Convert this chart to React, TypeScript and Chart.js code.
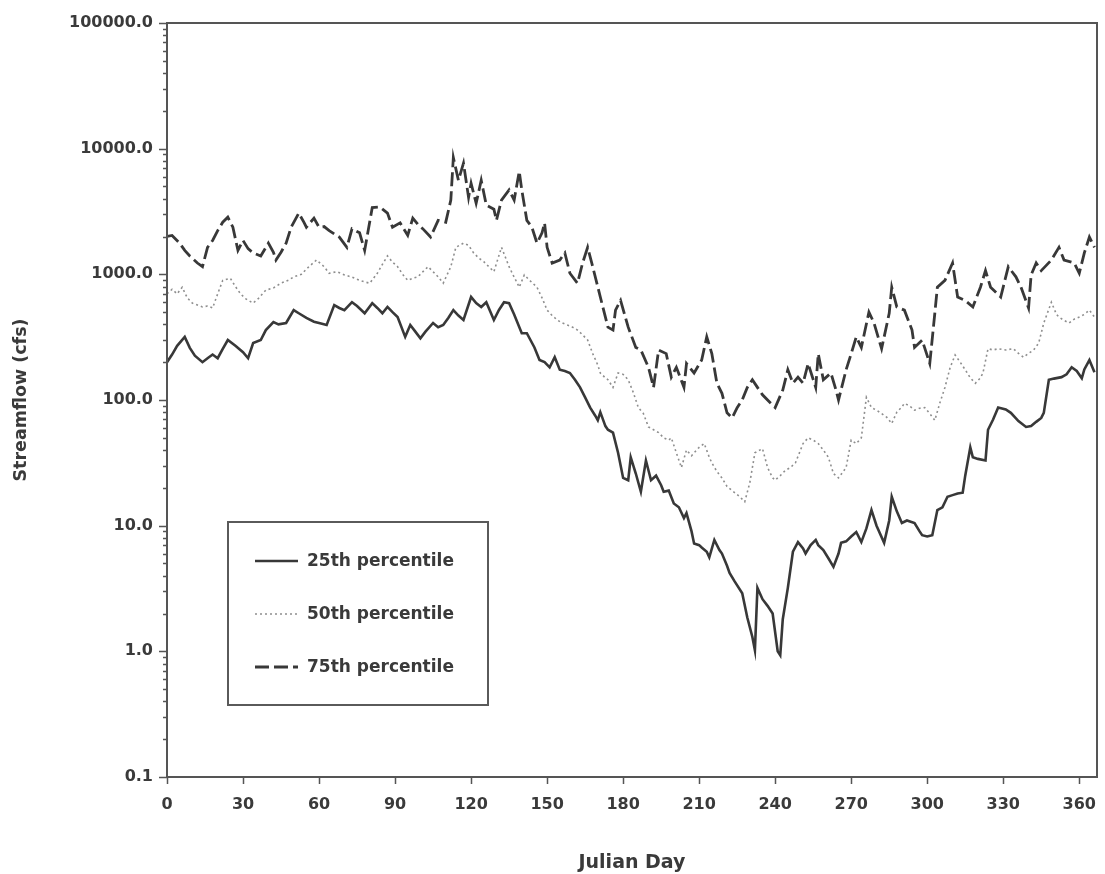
import React, { useEffect, useRef } from 'react';
import { Chart, registerables } from 'chart.js';

Chart.register(...registerables);

// Axis ticks
const dayTicks = [0, 30, 60, 90, 120, 150, 180, 210, 240, 270, 300, 330, 360];
const flowTicks = [0.1, 1, 10, 100, 1000, 10000, 100000];

const seriesLabels = ['25th percentile', '50th percentile', '75th percentile'];

// 25th percentile daily streamflow (cfs)
const p25Days = [
  0, 2, 4, 7, 9, 11, 14, 16, 18, 20, 22, 24, 27, 30, 32, 34, 37, 39, 42, 44, 47, 50, 52, 55, 58, 60,
  63, 66, 68, 70, 73, 75, 78, 81, 83, 85, 87, 89, 91, 94, 96, 98, 100, 102, 105, 107, 109, 111, 113,
  115, 117, 120, 122, 124, 126, 129, 131, 133, 135, 137, 140, 142, 145, 147, 149, 151, 153, 155, 157,
  159, 161, 163, 165, 167, 169, 170, 171, 173, 174, 176, 178, 180, 182, 183, 185, 187, 189, 191, 193,
  195, 196, 198, 200, 202, 204, 205, 207, 208, 210, 211, 213, 214, 216, 218, 219, 221, 222, 224, 227,
  229, 231, 232, 233, 235, 237, 239, 241, 242, 243, 245, 247, 249, 251, 252, 254, 256, 257, 259, 261,
  263, 265, 266, 268, 270, 272, 274, 276, 278, 280, 283, 285, 286, 288, 290, 292, 295, 297, 298, 300,
  302, 304, 306, 308, 310, 312, 314, 315, 317, 318, 320, 323, 324, 326, 328, 331, 333, 336, 339, 341,
  343, 345, 346, 348, 350, 353, 355, 357, 359, 361, 362, 364, 366,
];
const p25Flow = [
  200, 230, 270, 318, 260, 225, 200, 215, 230, 215, 255, 300, 270, 240, 215, 284, 300, 360, 417, 400,
  410, 519, 490, 450, 420, 410, 395, 569, 540, 519, 600, 560, 490, 590, 540, 490, 550, 500, 457, 318,
  395, 350, 310, 350, 410, 380, 395, 450, 519, 470, 433, 660, 590, 550, 600, 433, 520, 600, 590, 480,
  340, 340, 262, 208, 200, 182, 219, 174, 170, 164, 145, 126, 105, 87, 75, 69, 80, 62, 58, 55, 38, 24,
  23, 35, 26, 18.6, 33, 23, 25, 21, 18.6, 19, 15, 14, 11.5, 12.6, 9, 7.2, 7.0, 6.7, 6.2, 5.6, 7.7, 6.4,
  6.0, 4.8, 4.2, 3.6, 2.9, 1.86, 1.3, 1.02, 3.2, 2.6, 2.3, 2.0, 1.0, 0.93, 1.8, 3.2, 6.2, 7.4, 6.6, 6.0,
  7.0, 7.7, 7.0, 6.4, 5.5, 4.7, 6.0, 7.3, 7.5, 8.2, 8.9, 7.4, 9.5, 13.3, 10, 7.3, 11, 17, 13, 10.5, 11,
  10.5, 9, 8.4, 8.2, 8.4, 13.3, 14, 17, 17.5, 18, 18.3, 25, 42, 35, 34, 33, 58, 70, 87, 84, 79, 68, 61,
  62, 67, 72, 79, 145, 148, 152, 160, 182, 170, 149, 175, 208, 166,
];

// 50th percentile daily streamflow (cfs)
const p50Days = [
  0, 2, 4, 6, 8, 10, 12, 14, 16, 18, 20, 22, 25, 27, 29, 31, 34, 36, 39, 42, 45, 48, 50, 53, 56, 59,
  62, 64, 67, 70, 73, 76, 78, 80, 83, 85, 87, 89, 91, 93, 95, 97, 99, 101, 103, 105, 107, 109, 112,
  114, 117, 119, 121, 123, 125, 127, 129, 132, 135, 137, 139, 141, 143, 146, 148, 150, 152, 154, 156,
  158, 160, 162, 164, 166, 168, 170, 171, 173, 174, 176, 178, 180, 182, 184, 186, 188, 190, 192, 194,
  196, 198, 199, 201, 203, 205, 207, 208, 210, 212, 214, 215, 217, 219, 221, 223, 226, 228, 230, 232,
  235, 237, 239, 240, 242, 244, 246, 248, 251, 253, 255, 257, 259, 261, 263, 265, 268, 270, 272, 274,
  276, 278, 280, 282, 284, 286, 288, 290, 291, 293, 295, 297, 299, 301, 303, 305, 307, 309, 311, 313,
  315, 317, 319, 321, 322, 324, 326, 328, 331, 334, 336, 338, 340, 342, 344, 346, 349, 351, 352, 354,
  356, 358, 360, 362, 364, 366,
];
const p50Flow = [
  700, 760, 700, 790, 650, 590, 570, 550, 560, 540, 700, 895, 930, 800, 700, 640, 590, 640, 748, 780,
  850, 900, 955, 1000, 1150, 1300, 1150, 1020, 1050, 990, 950, 895, 870, 850, 1020, 1200, 1400, 1250,
  1150, 1000, 895, 930, 955, 1050, 1150, 1050, 955, 850, 1150, 1640, 1770, 1700, 1480, 1350, 1260,
  1150, 1050, 1640, 1150, 950, 790, 990, 900, 790, 650, 519, 470, 433, 410, 395, 380, 360, 330, 300,
  234, 190, 164, 150, 145, 126, 164, 160, 145, 115, 87, 78, 61, 58, 55, 50, 48, 50, 38, 29, 40, 36, 38,
  42, 45, 35, 31.6, 27, 24, 20.5, 19, 17, 15.5, 22, 38, 41, 29, 24, 23, 25, 27.5, 29, 31.6, 45, 50, 48,
  45, 40, 35, 26, 24, 29, 48, 45, 50, 105, 87, 83, 78, 73, 65, 80, 88, 94, 90, 83, 86, 87, 78, 69, 95,
  126, 180, 228, 200, 174, 150, 136, 150, 164, 256, 250, 256, 250, 256, 235, 219, 235, 250, 284, 410,
  600, 480, 457, 430, 410, 440, 457, 480, 519, 457,
];

// 75th percentile daily streamflow (cfs)
const p75Days = [
  0, 2, 5, 7, 9, 12, 14, 16, 18, 20, 22, 24, 26, 28, 30, 32, 34, 37, 40, 42, 43, 45, 47, 49, 52, 54,
  55, 58, 60, 62, 64, 66, 68, 71, 73, 76, 78, 81, 84, 87, 89, 92, 95, 97, 99, 101, 104, 107, 110, 112,
  113, 115, 117, 119, 120, 122, 124, 126, 129, 130, 132, 135, 137, 139, 140, 142, 144, 146, 148, 149,
  150, 152, 155, 157, 159, 162, 164, 166, 168, 171, 174, 176, 177, 179, 182, 185, 187, 190, 192, 194,
  197, 199, 201, 204, 205, 208, 211, 213, 215, 217, 219, 221, 223, 225, 227, 229, 231, 233, 235, 237,
  240, 243, 245, 247, 249, 251, 253, 256, 257, 259, 262, 264, 265, 268, 270, 272, 274, 277, 279, 282,
  285, 286, 288, 291, 294, 295, 298, 301, 303, 304, 307, 310, 312, 315, 318, 321, 323, 325, 329, 332,
  335, 337, 340, 341, 343, 345, 349, 352, 354, 358, 360, 362, 364, 366,
];
const p75Flow = [
  2000, 2040, 1770, 1550, 1400, 1230, 1150, 1640, 1860, 2230, 2600, 2850, 2370, 1550, 1860, 1600, 1480,
  1400, 1770, 1500, 1300, 1500, 1770, 2370, 3070, 2600, 2370, 2800, 2370, 2400, 2230, 2100, 1980, 1640,
  2300, 2140, 1550, 3400, 3430, 3070, 2370, 2570, 2040, 2800, 2500, 2300, 1980, 2690, 2600, 3900, 8500,
  5600, 7670, 4100, 5300, 3680, 5600, 3550, 3300, 2690, 3900, 4700, 3900, 6600, 4700, 2690, 2370, 1770,
  2140, 2570, 1640, 1230, 1300, 1480, 1020, 850, 1230, 1640, 1150, 660, 380, 360, 519, 620, 380, 262,
  250, 182, 126, 250, 234, 152, 182, 126, 195, 164, 208, 318, 234, 136, 113, 79, 72, 87, 100, 126, 145,
  126, 110, 100, 87, 120, 174, 136, 152, 136, 195, 126, 234, 145, 164, 120, 100, 174, 234, 318, 262,
  500, 410, 256, 490, 790, 550, 519, 360, 262, 300, 195, 490, 790, 895, 1230, 660, 620, 550, 790, 1070,
  790, 660, 1150, 955, 790, 540, 990, 1230, 1070, 1300, 1640, 1300, 1230, 1020, 1480, 1980, 1640,
];

const FONT = 'DejaVu Sans';
const INK = '#3a3a3a';
const AXIS = '#555555';

const toPoints = (days: number[], flows: number[]) => days.map((d, i) => ({ x: d, y: flows[i] }));

const isDecade = (v: number) => Math.abs(Math.log10(v) - Math.round(Math.log10(v))) < 1e-9;

// Frame, tick marks and the boxed legend inside the plot
const decorPlugin = {
  id: 'decor',
  beforeDraw(chart: any) {
    const { ctx, width, height } = chart;
    ctx.save();
    ctx.fillStyle = '#ffffff';
    ctx.fillRect(0, 0, width, height);
    ctx.restore();
  },
  afterDraw(chart: any) {
    const { ctx, chartArea, scales } = chart;
    const { left, right, top, bottom } = chartArea;
    const xs = scales.x;
    const ys = scales.y;
    ctx.save();

    // plot frame
    ctx.strokeStyle = AXIS;
    ctx.lineWidth = 2;
    ctx.strokeRect(left, top, right - left, bottom - top);

    // y-axis major and minor ticks
    ctx.lineWidth = 1.5;
    ctx.beginPath();
    const lo = Math.log10(flowTicks[0]);
    const hi = Math.log10(flowTicks[flowTicks.length - 1]);
    for (let e = lo; e <= hi; e++) {
      for (let k = 1; k <= 9; k++) {
        const v = k * Math.pow(10, e);
        if (v > flowTicks[flowTicks.length - 1] * 1.0001) break;
        const py = Math.round(ys.getPixelForValue(v)) + 0.5;
        const len = k === 1 ? 8 : 4;
        ctx.moveTo(left - len, py);
        ctx.lineTo(left, py);
      }
    }
    // x-axis ticks
    for (const d of dayTicks) {
      const px = Math.round(xs.getPixelForValue(d)) + 0.5;
      ctx.moveTo(px, bottom);
      ctx.lineTo(px, bottom + 7);
    }
    ctx.stroke();

    // legend box
    const bx = left + 61;
    const by = top + 499;
    const bw = 260;
    const bh = 183;
    ctx.fillStyle = '#ffffff';
    ctx.fillRect(bx, by, bw, bh);
    ctx.strokeStyle = '#5a5a5a';
    ctx.lineWidth = 2;
    ctx.strokeRect(bx, by, bw, bh);

    const rows = [39, 92, 145];
    chart.data.datasets.forEach((ds: any, i: number) => {
      const ry = by + rows[i];
      ctx.beginPath();
      ctx.strokeStyle = ds.borderColor;
      ctx.lineWidth = ds.borderWidth;
      ctx.setLineDash(ds.borderDash || []);
      ctx.moveTo(bx + 27, ry);
      ctx.lineTo(bx + 70, ry);
      ctx.stroke();
      ctx.setLineDash([]);
      ctx.fillStyle = INK;
      ctx.font = `bold 17px "${FONT}"`;
      ctx.textBaseline = 'middle';
      ctx.textAlign = 'left';
      ctx.fillText(ds.label, bx + 79, ry + 1);
    });

    ctx.restore();
  },
};

export default function App() {
  const canvasRef = useRef<HTMLCanvasElement | null>(null);

  useEffect(() => {
    const canvas = canvasRef.current;
    if (!canvas) return;
    const tickFont = { family: FONT, weight: 'bold' as const, size: 16 };

    const chart = new Chart(canvas, {
      type: 'line',
      data: {
        datasets: [
          {
            label: seriesLabels[0],
            data: toPoints(p25Days, p25Flow),
            borderColor: '#383838',
            borderWidth: 2.6,
            pointRadius: 0,
            tension: 0,
          },
          {
            label: seriesLabels[1],
            data: toPoints(p50Days, p50Flow),
            borderColor: '#8e8e8e',
            borderWidth: 1.6,
            borderDash: [2, 3],
            pointRadius: 0,
            tension: 0,
          },
          {
            label: seriesLabels[2],
            data: toPoints(p75Days, p75Flow),
            borderColor: '#383838',
            borderWidth: 2.8,
            borderDash: [14, 5],
            pointRadius: 0,
            tension: 0,
          },
        ],
      },
      options: {
        responsive: false,
        animation: false,
        events: [],
        layout: { padding: { top: 23, right: 8, left: 0, bottom: 0 } },
        plugins: {
          legend: { display: false },
          tooltip: { enabled: false },
        },
        scales: {
          x: {
            type: 'linear',
            min: 0,
            max: 367,
            afterBuildTicks: (s: any) => {
              s.ticks = dayTicks.map((v) => ({ value: v }));
            },
            afterFit: (s: any) => {
              s.height = 97;
              s.paddingLeft = 0;
              s.paddingRight = 0;
            },
            grid: { display: false, drawTicks: false },
            border: { display: false },
            ticks: {
              autoSkip: false,
              maxRotation: 0,
              padding: 18,
              color: INK,
              font: tickFont,
              callback: (v: any) => String(v),
            },
            title: {
              display: true,
              text: 'Julian Day',
              color: INK,
              font: { family: FONT, weight: 'bold' as const, size: 19 },
              padding: { top: 0, bottom: 0 },
            },
          },
          y: {
            type: 'logarithmic',
            min: flowTicks[0],
            max: flowTicks[flowTicks.length - 1],
            afterBuildTicks: (s: any) => {
              s.ticks = flowTicks.map((v) => ({ value: v, major: true }));
            },
            afterFit: (s: any) => {
              s.width = 167;
              s.paddingTop = 0;
              s.paddingBottom = 0;
            },
            grid: { display: false, drawTicks: false },
            border: { display: false },
            ticks: {
              autoSkip: false,
              padding: 14,
              color: INK,
              font: tickFont,
              callback: (v: any) => (isDecade(Number(v)) ? Number(v).toFixed(1) : ''),
            },
            title: {
              display: true,
              text: 'Streamflow (cfs)',
              color: INK,
              font: { family: FONT, weight: 'bold' as const, size: 17.5 },
              padding: { top: 11, bottom: 0 },
            },
          },
        },
      },
      plugins: [decorPlugin],
    });

    return () => chart.destroy();
  }, []);

  return (
    <div style={{ position: 'absolute', left: 0, top: 0, width: 1105, height: 874, background: '#ffffff' }}>
      <canvas ref={canvasRef} width={1105} height={874} style={{ display: 'block' }} />
    </div>
  );
}
